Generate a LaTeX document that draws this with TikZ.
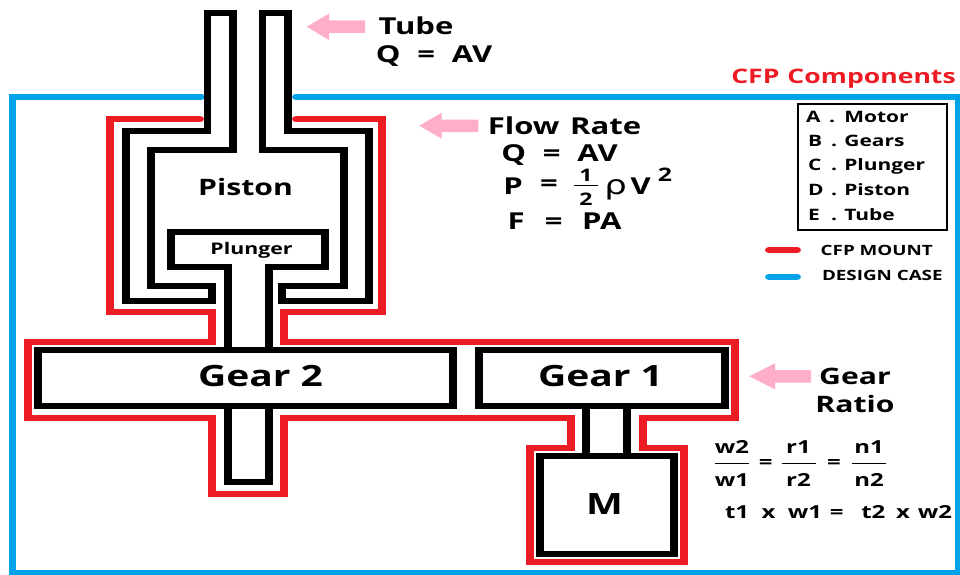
\documentclass[tikz,border=0pt]{standalone}
\usepackage{fontspec}
\setmainfont{Open Sans}
\definecolor{cfpred}{HTML}{ED1C24}
\definecolor{caseblue}{HTML}{00A2E8}
\definecolor{arrowpink}{HTML}{FFAEC9}
\newcommand{\fs}[1]{\fontsize{#1pt}{#1pt}\selectfont}
\tikzset{
  wall/.style={draw=black,line width=4.5pt,miter limit=10},
  mount/.style={draw=cfpred,line width=4.5pt,line cap=round},
  casing/.style={draw=caseblue,line width=4.5pt,line cap=round},
  txt/.style={inner sep=0pt,outer sep=0pt,font=\bfseries,anchor=center},
  big/.style={txt,font=\bfseries\fs{17.5}},
  gearlbl/.style={txt,font=\bfseries\fs{22}},
  legendrow/.style={txt,anchor=west,font=\fs{11.8}\bfseries},
  keyrow/.style={txt,anchor=west,font=\fs{10.6}\bfseries},
  ratio/.style={txt,font=\fs{13.5}\bfseries},
  pinkarrow/.style={fill=arrowpink,draw=none},
  fracbar/.style={draw=black,line width=0.75pt}
}
\newcommand{\hs}[1]{\hspace*{#1pt}}
\newcommand{\keyline}[2]{\makebox[13pt][l]{#1}\makebox[7.5pt][l]{.}#2}
\begin{document}
\begin{tikzpicture}[x=0.5639pt,y=-0.75pt]
\useasboundingbox (0,0) rectangle (1276.8,574);
\begin{scope}[transform canvas={xscale=1.33}]
% design case
\draw[casing] (201,96.7) -- (12.5,96.7) -- (12.5,573) -- (958.5,573) -- (958.5,96.7) -- (296,96.7);
% CFP mount
\draw[mount] (200,119.3) -- (110,119.3) -- (110,312) -- (212.3,312) -- (212.3,342.3) -- (28,342.3) -- (28,418.3) -- (212.3,418.3) -- (212.3,493.7) -- (283.7,493.7) -- (283.7,418.3) -- (570.7,418.3) -- (570.7,448.3) -- (529.7,448.3) -- (529.7,562.3) -- (684,562.3) -- (684,448.3) -- (642.7,448.3) -- (642.7,418.3) -- (734.7,418.3) -- (734.7,342.3) -- (283.7,342.3) -- (283.7,312) -- (381.7,312) -- (381.7,119.3) -- (296,119.3);
% tube and piston
\draw[wall] (207.5,13) -- (207.5,130.7) -- (125.7,130.7) -- (125.7,301) -- (212.3,301) -- (212.3,286) -- (151,286) -- (151,149.7) -- (233,149.7) -- (233,13) -- cycle;
\draw[wall] (262.5,13) -- (262.5,149.7) -- (344,149.7) -- (344,286) -- (282.3,286) -- (282.3,301) -- (369.3,301) -- (369.3,130.7) -- (288,130.7) -- (288,13) -- cycle;
% plunger
\draw[wall] (227.7,350) -- (227.7,266.7) -- (171.3,266.7) -- (171.3,232.3) -- (325.3,232.3) -- (325.3,266.7) -- (269,266.7) -- (269,350);
% shaft below gear 2
\draw[wall] (227.7,406.3) -- (227.7,482.3) -- (269,482.3) -- (269,406.3);
% motor shaft
\draw[wall] (586.3,406.3) -- (586.3,455.7);
\draw[wall] (627.3,406.3) -- (627.3,455.7);
% gears, motor
\draw[wall] (38.3,350) rectangle (453.3,406.3);
\draw[wall] (479,350) rectangle (724.7,406.3);
\draw[wall] (540.3,455.7) rectangle (673.7,554.3);
% pink arrows
\fill[pinkarrow] (306.7,26.7) -- (329,13.7) -- (329,20.5) -- (365,20.5) -- (365,33) -- (329,33) -- (329,40) -- cycle;
\fill[pinkarrow] (419.3,125.7) -- (441.7,112.7) -- (441.7,119.5) -- (478.3,119.5) -- (478.3,132) -- (441.7,132) -- (441.7,138.7) -- cycle;
\fill[pinkarrow] (749.3,376.3) -- (775,363.3) -- (775,370) -- (811,370) -- (811,382.5) -- (775,382.5) -- (775,389.3) -- cycle;
% texts
\node[big] (tube) at (416,26) {Tube};
\node[big] (tubeq) at (434,56) {Q\hs{9.5}=\hs{9.5}AV};
\node[big] (flow) at (564.5,125.5) {Flow\hs{6}Rate};
\node[big] (flowq) at (559.5,155) {Q\hs{9.5}=\hs{9.5}AV};
\node[big] (pp) at (513,186) {P};
\node[big] (peq) at (549,186) {=};
\node[txt,font=\bfseries\fs{13}] (pone) at (586,175) {1};
\node[txt,font=\bfseries\fs{13}] (ptwo) at (586,199) {2};
\draw[fracbar] (574,185.7) -- (598,185.7);
\node[txt,font=\fs{20}] (prho) at (615.7,190) {\fontspec{DejaVu Sans}ρ};
\node[big] (pv) at (640.7,186) {V};
\node[txt,font=\bfseries\fs{14}] (psq) at (665,175) {2};
\node[big] (force) at (564.5,221) {F\hs{11.5}=\hs{11}PA};
\node[txt,text=cfpred,font=\bfseries\fs{15}] (title) at (843.5,79) {CFP\hs{4.5}Components};
\draw[black,line width=0.9pt] (797.7,104) rectangle (946.7,230);
\node[legendrow] (ka) at (806,117) {\keyline{A}{\hs{1.2}Motor}};
\node[legendrow] (kb) at (808,141) {\keyline{B}{Gears}};
\node[legendrow] (kc) at (808,166) {\keyline{C}{Plunger}};
\node[legendrow] (kd) at (808,190) {\keyline{D}{Piston}};
\node[legendrow] (ke) at (808,215) {\keyline{E}{Tube}};
\draw[mount] (769,250) -- (797,250);
\draw[casing] (769,276.7) -- (797,276.7);
\node[keyrow] (kmount) at (820.7,250) {CFP MOUNT};
\node[keyrow] (kcase) at (822,275) {DESIGN CASE};
\node[txt,font=\bfseries\fs{17}] (piston) at (245.5,187) {Piston};
\node[txt,font=\bfseries\fs{12}] (plunger) at (251.5,250.5) {Plunger};
\node[gearlbl] (g2) at (260.5,376) {Gear 2};
\node[gearlbl] (g1) at (600.5,376) {Gear 1};
\node[gearlbl] (motor) at (604.5,504) {M};
\node[txt,font=\bfseries\fs{17}] (gr1) at (855,376) {Gear};
\node[txt,font=\bfseries\fs{17}] (gr2) at (855,404) {Ratio};
\node[ratio] (w2) at (732,446.7) {w2};
\node[ratio] (w1) at (732,480) {w1};
\node[ratio] (r1) at (798.5,446.7) {r1};
\node[ratio] (r2) at (798.5,480) {r2};
\node[ratio] (n1) at (869,446.7) {n1};
\node[ratio] (n2) at (869,480) {n2};
\draw[fracbar] (715,463.7) -- (749,463.7);
\draw[fracbar] (781.7,463.7) -- (816,463.7);
\draw[fracbar] (851.7,463.7) -- (886,463.7);
\node[ratio] (e1) at (765.7,463.7) {=};
\node[ratio] (e2) at (834,463.7) {=};
\node[ratio] (torque) at (838.5,512) {t1\hs{7}x\hs{7}w1\hs{4.5}=\hs{10}t2\hs{6}x\hs{4.5}w2};
\end{scope}
\end{tikzpicture}
\end{document}
